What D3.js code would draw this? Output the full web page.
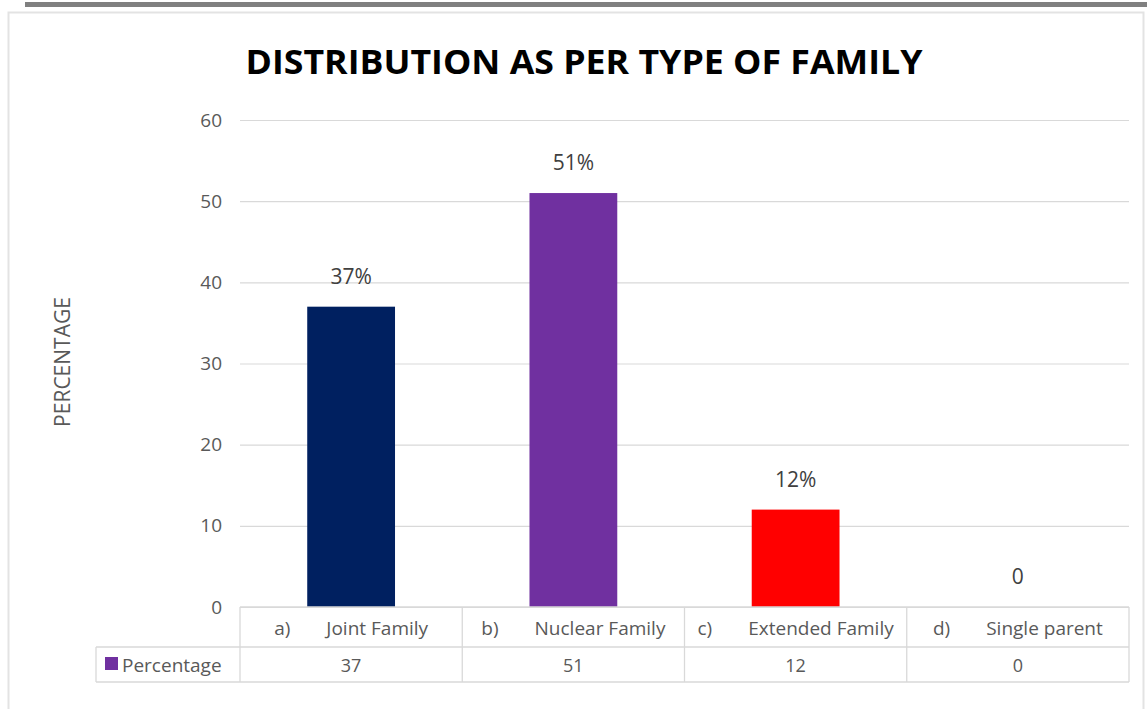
<!DOCTYPE html>
<html>
<head>
<meta charset="utf-8">
<script src="https://cdn.jsdelivr.net/npm/d3@7"></script>
<style>
  html, body { margin: 0; padding: 0; background: #fff; }
  svg { display: block; }
  text { font-family: "Open Sans", "Liberation Sans", sans-serif; }
</style>
</head>
<body>
<svg id="chart" width="1147" height="709"></svg>
<script>
// Family types surveyed and their share (%)
const prefixes = ["a)", "b)", "c)", "d)"];
const categories = ["Joint Family", "Nuclear Family", "Extended Family", "Single parent"];
const values = [37, 51, 12, 0];
const barColors = ["#002060", "#7030A0", "#FF0000", "#7030A0"];
const dataLabels = ["37%", "51%", "12%", "0"];
const yTicks = [0, 10, 20, 30, 40, 50, 60];
const seriesName = "Percentage";

const svg = d3.select("#chart");
const W = 1147, H = 709;

// frame
svg.append("rect").attr("x", 25).attr("y", 2).attr("width", W - 25).attr("height", 5).attr("fill", "#808080");
svg.append("rect").attr("x", 8.5).attr("y", 12.5).attr("width", 1135).attr("height", 720)
  .attr("fill", "none").attr("stroke", "#e3e3e3").attr("stroke-width", 2);

const plot = { left: 240, right: 1129, top: 120, bottom: 607 };
const tableLeft = 96, rowH1 = 40, rowH2 = 35;

const x = d3.scaleBand().domain(categories).range([plot.left, plot.right]).paddingInner(0).paddingOuter(0);
const y = d3.scaleLinear().domain([0, 60]).range([plot.bottom, plot.top]);

// title
svg.append("text").attr("x", 584).attr("y", 74).attr("text-anchor", "middle")
  .attr("font-size", 34).attr("font-weight", "bold").attr("fill", "#000")
  .attr("textLength", 677).attr("lengthAdjust", "spacingAndGlyphs")
  .text("DISTRIBUTION AS PER TYPE OF FAMILY");

// gridlines + y axis labels
const yAxis = d3.axisLeft(y).tickValues(yTicks).tickSize(-(plot.right - plot.left)).tickPadding(18);
const gy = svg.append("g").attr("transform", `translate(${plot.left},0)`).call(yAxis);
gy.select(".domain").remove();
gy.selectAll(".tick line").attr("stroke", "#d9d9d9").attr("stroke-width", 1.2);
gy.selectAll(".tick text").attr("fill", "#595959").attr("font-size", 19)
  .attr("font-family", "'Open Sans', sans-serif");

// y axis title
svg.append("text").attr("transform", "translate(70,362) rotate(-90)").attr("text-anchor", "middle")
  .attr("font-size", 21).attr("fill", "#595959").text("PERCENTAGE");

// bars
const barW = x.bandwidth() * 0.395;
svg.append("g").selectAll("rect").data(values).join("rect")
  .attr("x", (d, i) => x(categories[i]) + (x.bandwidth() - barW) / 2)
  .attr("y", d => y(d))
  .attr("width", barW)
  .attr("height", d => y(0) - y(d))
  .attr("fill", (d, i) => barColors[i]);

// data labels
svg.append("g").selectAll("text").data(values).join("text")
  .attr("x", (d, i) => x(categories[i]) + x.bandwidth() / 2)
  .attr("y", d => y(d) - 23)
  .attr("text-anchor", "middle").attr("font-size", 21).attr("fill", "#404040")
  .text((d, i) => dataLabels[i]);

// data table
const tb = svg.append("g").attr("stroke", "#d9d9d9").attr("stroke-width", 1.3).attr("fill", "none");
const r1 = plot.bottom, r2 = plot.bottom + rowH1, r3 = r2 + rowH2;
tb.append("line").attr("x1", plot.left).attr("x2", plot.right).attr("y1", r1).attr("y2", r1);
tb.append("line").attr("x1", tableLeft).attr("x2", plot.right).attr("y1", r2).attr("y2", r2);
tb.append("line").attr("x1", tableLeft).attr("x2", plot.right).attr("y1", r3).attr("y2", r3);
tb.append("line").attr("x1", tableLeft).attr("x2", tableLeft).attr("y1", r2).attr("y2", r3);
const colEdges = categories.map(c => x(c)).concat([plot.right]);
colEdges.forEach(cx => {
  tb.append("line").attr("x1", cx).attr("x2", cx).attr("y1", r1).attr("y2", r3);
});

// category header cells: "a)" prefix, gap, then the category name
const hdr = svg.append("g").selectAll("text").data(categories).join("text")
  .attr("x", c => x(c) + x.bandwidth() / 2)
  .attr("y", r1 + 28)
  .attr("text-anchor", "middle").attr("font-size", 19).attr("fill", "#595959");
hdr.append("tspan").text((c, i) => prefixes[i]);
hdr.append("tspan").attr("dx", 36).text(c => c);

// value cells
svg.append("g").selectAll("text").data(values).join("text")
  .attr("x", (d, i) => x(categories[i]) + x.bandwidth() / 2)
  .attr("y", r2 + 25)
  .attr("text-anchor", "middle").attr("font-size", 18).attr("fill", "#595959")
  .text(d => d);

// legend cell
svg.append("rect").attr("x", tableLeft + 9).attr("y", r2 + 10).attr("width", 13).attr("height", 13).attr("fill", "#7030A0");
svg.append("text").attr("x", tableLeft + 26).attr("y", r2 + 25)
  .attr("font-size", 19).attr("fill", "#595959").text(seriesName);
</script>
</body>
</html>
